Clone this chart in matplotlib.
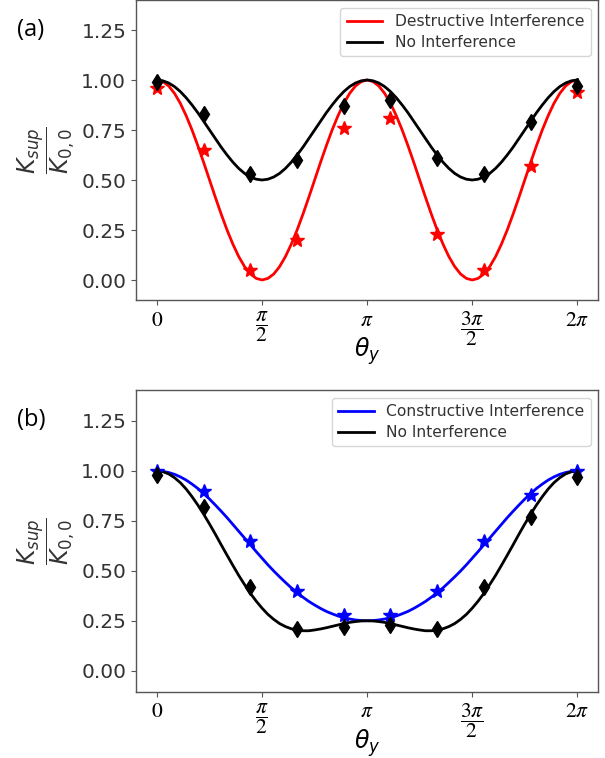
import numpy as np
import matplotlib
matplotlib.use("Agg")
import matplotlib.pyplot as plt
from matplotlib.font_manager import FontProperties

# ---------------- data ----------------
# dense curve grid (degrees -> radians)
curve_deg = np.arange(0, 361, 5)

destructive_curve = [1.000, 0.992, 0.970, 0.933, 0.883, 0.821, 0.750, 0.671, 0.587, 0.500,
                     0.413, 0.329, 0.250, 0.179, 0.117, 0.067, 0.030, 0.008, 0.000, 0.008,
                     0.030, 0.067, 0.117, 0.179, 0.250, 0.329, 0.413, 0.500, 0.587, 0.671,
                     0.750, 0.821, 0.883, 0.933, 0.970, 0.992, 1.000, 0.992, 0.970, 0.933,
                     0.883, 0.821, 0.750, 0.671, 0.587, 0.500, 0.413, 0.329, 0.250, 0.179,
                     0.117, 0.067, 0.030, 0.008, 0.000, 0.008, 0.030, 0.067, 0.117, 0.179,
                     0.250, 0.329, 0.413, 0.500, 0.587, 0.671, 0.750, 0.821, 0.883, 0.933,
                     0.970, 0.992, 1.000]

noint_curve_a = [1.000, 0.996, 0.985, 0.967, 0.942, 0.911, 0.875, 0.836, 0.793, 0.750,
                 0.707, 0.664, 0.625, 0.589, 0.558, 0.533, 0.515, 0.504, 0.500, 0.504,
                 0.515, 0.533, 0.558, 0.589, 0.625, 0.664, 0.707, 0.750, 0.793, 0.836,
                 0.875, 0.911, 0.942, 0.967, 0.985, 0.996, 1.000, 0.996, 0.985, 0.967,
                 0.942, 0.911, 0.875, 0.836, 0.793, 0.750, 0.707, 0.664, 0.625, 0.589,
                 0.558, 0.533, 0.515, 0.504, 0.500, 0.504, 0.515, 0.533, 0.558, 0.589,
                 0.625, 0.664, 0.707, 0.750, 0.793, 0.836, 0.875, 0.911, 0.942, 0.967,
                 0.985, 0.996, 1.000]

constructive_curve = [1.000, 0.998, 0.992, 0.983, 0.970, 0.954, 0.934, 0.912, 0.886, 0.859,
                      0.829, 0.798, 0.766, 0.732, 0.698, 0.664, 0.630, 0.596, 0.563, 0.530,
                      0.499, 0.470, 0.442, 0.415, 0.391, 0.368, 0.347, 0.329, 0.312, 0.297,
                      0.285, 0.274, 0.265, 0.259, 0.254, 0.251, 0.250, 0.251, 0.254, 0.259,
                      0.265, 0.274, 0.285, 0.297, 0.312, 0.329, 0.347, 0.368, 0.391, 0.415,
                      0.442, 0.470, 0.499, 0.530, 0.563, 0.596, 0.630, 0.664, 0.698, 0.732,
                      0.766, 0.798, 0.829, 0.859, 0.886, 0.912, 0.934, 0.954, 0.970, 0.983,
                      0.992, 0.998, 1.000]

noint_curve_b = [1.000, 0.996, 0.985, 0.966, 0.941, 0.909, 0.871, 0.829, 0.783, 0.734,
                 0.683, 0.630, 0.578, 0.527, 0.477, 0.431, 0.387, 0.348, 0.313, 0.282,
                 0.257, 0.236, 0.221, 0.210, 0.203, 0.200, 0.200, 0.204, 0.209, 0.215,
                 0.222, 0.229, 0.236, 0.242, 0.246, 0.249, 0.250, 0.249, 0.246, 0.242,
                 0.236, 0.229, 0.222, 0.215, 0.209, 0.204, 0.200, 0.200, 0.203, 0.210,
                 0.221, 0.236, 0.257, 0.282, 0.313, 0.348, 0.387, 0.431, 0.477, 0.527,
                 0.578, 0.630, 0.683, 0.734, 0.783, 0.829, 0.871, 0.909, 0.941, 0.966,
                 0.985, 0.996, 1.000]

# sampled points (10 equally spaced angles from 0 to 2*pi)
point_theta = np.linspace(0, 2 * np.pi, 10)
destructive_pts = [0.96, 0.65, 0.05, 0.20, 0.76, 0.81, 0.23, 0.05, 0.57, 0.94]
noint_pts_a = [0.99, 0.83, 0.53, 0.60, 0.87, 0.90, 0.61, 0.53, 0.79, 0.97]
constructive_pts = [1.00, 0.90, 0.65, 0.40, 0.28, 0.28, 0.40, 0.65, 0.88, 1.00]
noint_pts_b = [0.98, 0.82, 0.42, 0.21, 0.22, 0.23, 0.21, 0.42, 0.77, 0.97]

xtick_vals = [0, np.pi / 2, np.pi, 3 * np.pi / 2, 2 * np.pi]
xtick_labels = [r'$0$', r'$\dfrac{\pi}{2}$', r'$\pi$', r'$\dfrac{3\pi}{2}$', r'$2\pi$']
ytick_vals = [0.00, 0.25, 0.50, 0.75, 1.00, 1.25]

curve_theta = np.deg2rad(curve_deg)

# ---------------- figure ----------------
fig = plt.figure(figsize=(6.05, 7.58), dpi=100)
W, H = 605, 758
L, R = 136, 598.3
ax_a = fig.add_axes([L / W, 1 - 300 / H, (R - L) / W, 300 / H])
ax_b = fig.add_axes([L / W, 1 - 691.7 / H, (R - L) / W, 301.7 / H])

panels = [
    (ax_a, destructive_curve, destructive_pts, 'red', 'Destructive Interference',
     noint_curve_a, noint_pts_a, (-0.10, 1.40), '(a)', 30),
    (ax_b, constructive_curve, constructive_pts, 'blue', 'Constructive Interference',
     noint_curve_b, noint_pts_b, (-0.105, 1.405), '(b)', 420),
]

tick_fp = FontProperties(family='DejaVu Sans', size=14.5)

for ax, cur, pts, col, lab, ncur, npts, ylim, tag, tag_y in panels:
    ax.plot(curve_theta, cur, color=col, lw=2.0, label=lab, zorder=2)
    ax.plot(curve_theta, ncur, color='black', lw=2.0, label='No Interference', zorder=2)
    ax.plot(point_theta, pts, linestyle='none', marker='*', ms=10.5, color=col, zorder=3)
    ax.plot(point_theta, npts, linestyle='none', marker='d', ms=8.5, color='black', zorder=4)
    ax.set_ylim(*ylim)
    ax.set_yticks(ytick_vals)
    ax.set_yticklabels([f'{v:.2f}' for v in ytick_vals], fontproperties=tick_fp, color='#333333')
    ax.set_xticks(xtick_vals)
    ax.set_xticklabels(xtick_labels)
    for t in ax.get_xticklabels():
        t.set_fontsize(15.5)
        t.set_math_fontfamily('stix')
    for s in ax.spines.values():
        s.set_color('#555555')
        s.set_linewidth(1.0)
    ax.tick_params(color='#555555')
    ax.set_xlabel(r'$\theta_y$', fontsize=17)
    ax.xaxis.set_label_coords(0.5, -0.118)
    ax.set_ylabel(r'$\dfrac{K_{sup}}{K_{0,0}}$', fontsize=17, color='#333333')
    ax.yaxis.set_label_coords(-0.128, 0.5)
    leg = ax.legend(loc='upper right', fontsize=11.2, handlelength=2.3, labelspacing=0.4,
                    borderaxespad=0.5)
    for t in leg.get_texts():
        t.set_color('#333333')
    fig.text(31 / W, 1 - tag_y / H, tag, fontsize=17, family='Open Sans',
             ha='center', va='center')

fig.savefig('out.png', dpi=100)
